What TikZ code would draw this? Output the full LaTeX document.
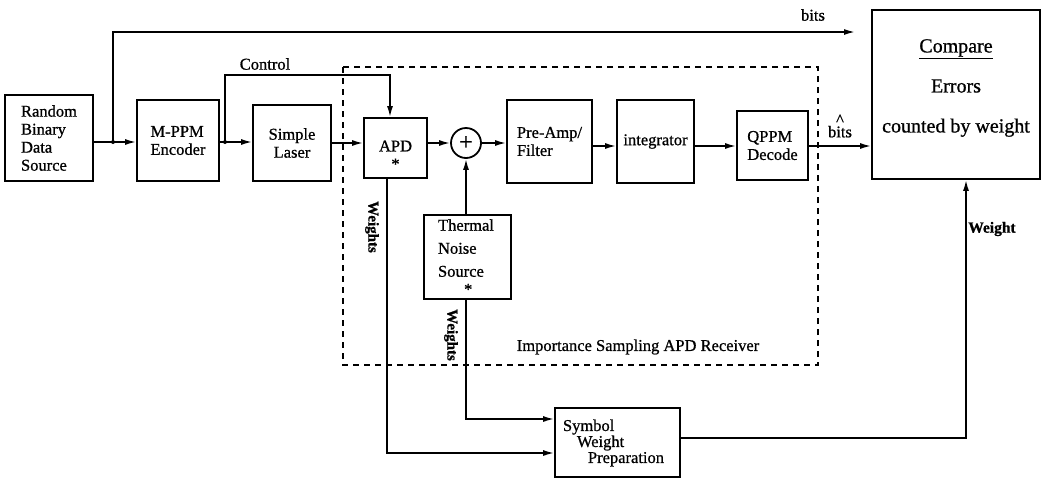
\documentclass[tikz,border=0pt]{standalone}
\usepackage{fontspec}
\setmainfont{Liberation Serif}[FakeBold=0.8]
\usetikzlibrary{arrows.meta}
\begin{document}
\begin{tikzpicture}[x=1pt,y=-1pt,
  box/.style={draw,line width=1.8pt,rectangle,inner sep=0pt,align=center,font=\fontsize{16.5}{18}\selectfont},
  wire/.style={line width=1.6pt},
  arr/.style={wire,-{Latex[length=11pt,width=6pt]}},
  lbl/.style={font=\fontsize{16.5}{18}\selectfont,inner sep=0pt},
  wlbl/.style={font=\bfseries\fontsize{15}{16}\selectfont,inner sep=0pt,rotate=-90},
  jdot/.style={circle,fill,inner sep=0pt,minimum size=4pt}]
\useasboundingbox (0,0) rectangle (1041,480);
% boxes
\node[box,minimum width=88pt,minimum height=86pt,align=left] (src) at (49,138) {Random\\Binary\\Data\\Source};
\node[box,minimum width=82pt,minimum height=81pt,align=left] (enc) at (178,140.5) {M-PPM\\Encoder};
\node[box,minimum width=78pt,minimum height=76pt] (las) at (292,143) {Simple\\Laser};
\node[box,minimum width=63pt,minimum height=60pt] (apd) at (395.5,148) {};
\node[lbl,align=center] (apdt) at (395.5,155) {APD\\*};
\node[draw,circle,line width=1.8pt,minimum size=30pt,inner sep=0pt,font=\fontsize{24}{24}\selectfont] (sum) at (466,143) {+};
\node[box,minimum width=85pt,minimum height=83pt,align=left] (pre) at (549.5,141.5) {Pre-Amp/\\Filter};
\node[box,minimum width=77pt,minimum height=83pt] (int) at (655.5,141.5) {integrator};
\node[box,minimum width=71pt,minimum height=69pt,align=left] (qppm) at (772.5,145.5) {QPPM\\Decode};
\node[box,minimum width=168pt,minimum height=169pt] (cmp) at (956,94.5) {};
\node[lbl,align=center,font=\fontsize{20}{40}\selectfont] (cmpt) at (956,88) {\underline{Compare}\\Errors\\counted by weight};
\node[box,minimum width=87pt,minimum height=84pt] (th) at (467.5,257) {};
\node[lbl,align=left,font=\fontsize{16.5}{23}\selectfont] (tht) at (466,257) {Thermal\\Noise\\Source\\[-5pt]\hspace*{26pt}*};
\node[box,minimum width=125pt,minimum height=69pt] (sym) at (617.5,442.5) {};
\node[lbl,align=left,font=\fontsize{16.5}{16}\selectfont] (symt) at (613.5,443) {Symbol\\\hspace*{14pt}Weight\\\hspace*{25pt}Preparation};
% receiver frame
\draw[line width=1.6pt,dash pattern=on 6pt off 5pt] (343,67) rectangle (818,365);
\node[lbl] (isl) at (638,347) {Importance Sampling APD Receiver};
% coordinates
\coordinate (j1) at (113,142);
\coordinate (j2) at (225,142);
\coordinate (bend) at (855,32);
\coordinate (ctop) at (390,75);
\coordinate (r2) at (0,143);
\coordinate (r3) at (0,146);
\coordinate (r4) at (0,419);
\coordinate (r5) at (0,453);
\coordinate (r6) at (0,438);
% wires
\draw[arr] (src.east |- j1) -- (enc.west |- j1);
\draw[arr] (j1) |- (bend);
\node[lbl] (bitsl) at (813,15) {bits};
\draw[arr] (enc.east |- j2) -- (las.west |- j2);
\draw[arr] (j2) |- (ctop) -- (ctop |- apd.north);
\node[lbl] (ctl) at (265,64) {Control};
\node[jdot] at (j1) {};
\node[jdot] at (j2) {};
\draw[arr] (las.east |- r2) -- (apd.west |- r2);
\draw[arr] (apd.east |- sum) -- (sum.west);
\draw[arr] (sum.east) -- (pre.west |- sum);
\draw[arr] (pre.east |- r3) -- (int.west |- r3);
\draw[arr] (int.east |- r3) -- (qppm.west |- r3);
\draw[arr] (qppm.east |- r3) -- (cmp.west |- r3);
\node[lbl,align=center] (hb) at (840,126) {\^{}\\[-6pt]bits};
\draw[arr] (sum.south |- th.north) -- (sum.south);
\draw[arr] (sum.south |- th.south) |- (sym.west |- r4);
\draw[arr] ([xshift=-8.5pt]apd.south) |- (sym.west |- r5);
\draw[arr] (sym.east |- r6) -| ([xshift=10pt]cmp.south);
\node[wlbl] (w1) at (372,227) {Weights};
\node[wlbl] (w2) at (451,335) {Weights};
\node[lbl,font=\bfseries\fontsize{15.5}{16}\selectfont] (wl) at (992,229) {Weight};
\end{tikzpicture}
\end{document}
